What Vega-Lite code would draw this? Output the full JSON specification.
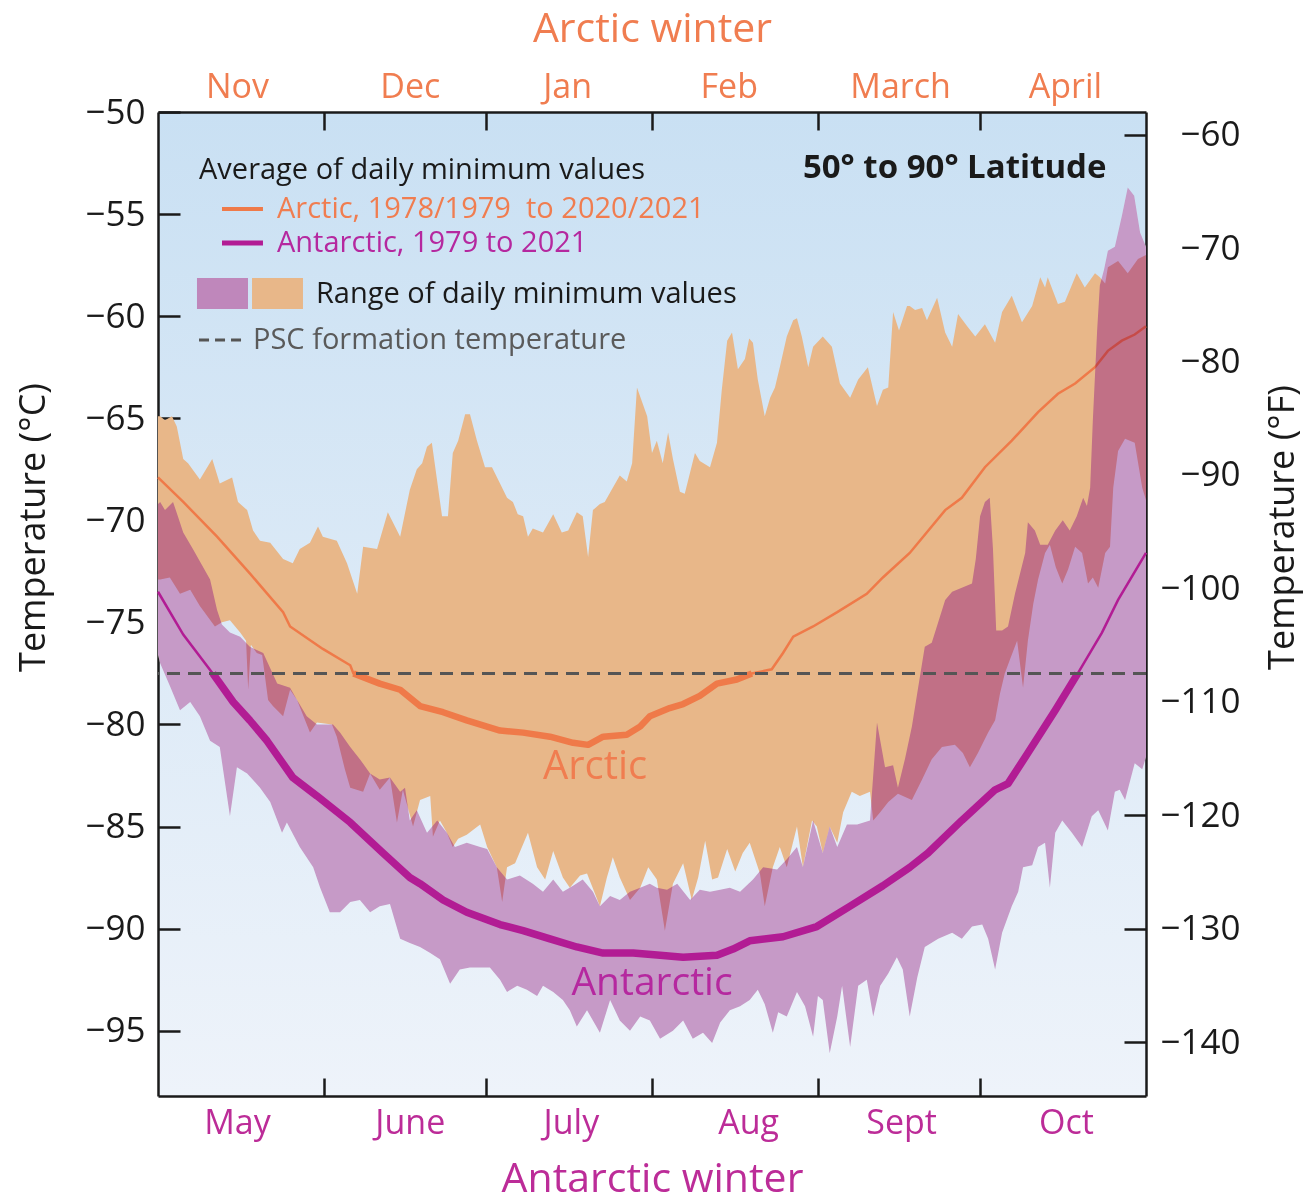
{
  "$schema": "https://vega.github.io/schema/vega-lite/v6.json",
  "width": 988,
  "height": 984,
  "autosize": {"type": "none"},
  "padding": {"left": 158, "top": 112, "right": 160, "bottom": 102},
  "background": "#ffffff",
  "config": {
    "font": "Open Sans",
    "view": {
      "stroke": null,
      "fill": {"gradient": "linear", "x1": 0, "y1": 0, "x2": 0, "y2": 1,
        "stops": [{"offset": 0, "color": "#c9e0f3"}, {"offset": 1, "color": "#eef3fa"}]}
    },
    "axis": {
      "grid": false, "zindex": 1,
      "labelFont": "Open Sans", "titleFont": "Open Sans", "titleFontWeight": "normal",
      "domainColor": "#1a1a1a", "domainWidth": 2.5, "tickColor": "#1a1a1a", "tickWidth": 2.5,
      "labelFlush": false, "labelOverlap": false, "labelBound": false
    }
  },
  "datasets": {
    "arcticBand": [
      {"day":0,"temp":-64.9},{"day":0.4,"temp":-64.9},{"day":1.3,"temp":-65.1},{"day":2.6,"temp":-64.9},{"day":3.5,"temp":-65.4},{"day":4.7,"temp":-67.0},{"day":5.6,"temp":-67.2},{"day":7.8,"temp":-68.0},{"day":10.1,"temp":-67.0},{"day":11.5,"temp":-68.2},{"day":13.8,"temp":-67.9},{"day":14.9,"temp":-69.1},{"day":16.6,"temp":-69.5},{"day":17.7,"temp":-70.5},{"day":19.0,"temp":-71.0},{"day":20.9,"temp":-71.1},{"day":23.3,"temp":-71.9},{"day":25.1,"temp":-72.1},{"day":26.4,"temp":-71.4},{"day":28.3,"temp":-71.1},{"day":29.8,"temp":-70.3},{"day":30.7,"temp":-70.8},{"day":33.3,"temp":-71.0},{"day":35.2,"temp":-72.1},{"day":37.1,"temp":-73.6},{"day":38.2,"temp":-71.3},{"day":40.8,"temp":-71.4},{"day":42.8,"temp":-69.6},{"day":45.1,"temp":-70.8},{"day":46.9,"temp":-68.5},{"day":48.2,"temp":-67.5},{"day":49.2,"temp":-67.2},{"day":50.1,"temp":-66.4},{"day":51.0,"temp":-66.2},{"day":52.9,"temp":-69.8},{"day":54.0,"temp":-69.8},{"day":54.9,"temp":-66.7},{"day":55.9,"temp":-66.1},{"day":57.2,"temp":-64.8},{"day":58.1,"temp":-64.8},{"day":59.4,"temp":-66.1},{"day":60.9,"temp":-67.4},{"day":62.2,"temp":-67.4},{"day":63.7,"temp":-68.2},{"day":65.0,"temp":-68.9},{"day":66.1,"temp":-69.1},{"day":67.0,"temp":-69.7},{"day":68.0,"temp":-69.8},{"day":68.9,"temp":-70.8},{"day":69.8,"temp":-70.4},{"day":71.7,"temp":-70.6},{"day":73.6,"temp":-69.7},{"day":75.2,"temp":-70.6},{"day":76.4,"temp":-70.5},{"day":78.0,"temp":-69.6},{"day":79.1,"temp":-69.8},{"day":80.1,"temp":-71.8},{"day":81.0,"temp":-69.5},{"day":82.3,"temp":-69.2},{"day":83.2,"temp":-69.1},{"day":84.7,"temp":-68.4},{"day":86.0,"temp":-67.8},{"day":87.3,"temp":-68.1},{"day":88.3,"temp":-67.2},{"day":89.2,"temp":-63.5},{"day":91.1,"temp":-64.9},{"day":92.0,"temp":-66.7},{"day":92.9,"temp":-66.1},{"day":94.0,"temp":-67.2},{"day":95.0,"temp":-65.7},{"day":95.9,"temp":-67.0},{"day":97.2,"temp":-68.6},{"day":98.1,"temp":-68.7},{"day":100.0,"temp":-66.7},{"day":100.9,"temp":-67.1},{"day":102.8,"temp":-67.4},{"day":104.1,"temp":-66.2},{"day":105.0,"temp":-63.6},{"day":106.0,"temp":-61.2},{"day":106.9,"temp":-60.8},{"day":108.0,"temp":-62.6},{"day":109.3,"temp":-62.1},{"day":110.1,"temp":-61.1},{"day":110.8,"temp":-61.3},{"day":111.7,"temp":-63.1},{"day":113.0,"temp":-64.9},{"day":114.0,"temp":-64.0},{"day":114.9,"temp":-63.5},{"day":115.8,"temp":-62.5},{"day":117.1,"temp":-61.0},{"day":118.3,"temp":-60.2},{"day":119.0,"temp":-60.1},{"day":119.9,"temp":-61.0},{"day":121.1,"temp":-62.5},{"day":122.0,"temp":-61.5},{"day":123.8,"temp":-61.0},{"day":125.5,"temp":-61.5},{"day":127.0,"temp":-63.3},{"day":128.9,"temp":-64.0},{"day":130.4,"temp":-63.1},{"day":132.2,"temp":-62.5},{"day":133.9,"temp":-64.4},{"day":135.0,"temp":-63.6},{"day":136.0,"temp":-63.5},{"day":136.9,"temp":-59.8},{"day":138.0,"temp":-60.7},{"day":139.5,"temp":-59.5},{"day":140.0,"temp":-59.5},{"day":141.0,"temp":-59.7},{"day":142.3,"temp":-59.6},{"day":143.2,"temp":-60.2},{"day":145.1,"temp":-59.1},{"day":146.6,"temp":-60.8},{"day":147.9,"temp":-61.5},{"day":149.0,"temp":-59.9},{"day":150.7,"temp":-60.5},{"day":152.2,"temp":-61.0},{"day":154.0,"temp":-60.4},{"day":155.9,"temp":-61.3},{"day":157.2,"temp":-59.8},{"day":159.0,"temp":-59.0},{"day":160.9,"temp":-60.3},{"day":162.8,"temp":-59.5},{"day":164.3,"temp":-58.1},{"day":165.2,"temp":-58.6},{"day":165.7,"temp":-58.1},{"day":167.6,"temp":-59.4},{"day":168.9,"temp":-59.3},{"day":171.1,"temp":-57.9},{"day":172.6,"temp":-58.6},{"day":174.5,"temp":-57.9},{"day":175.4,"temp":-58.1},{"day":176.4,"temp":-58.4},{"day":176.9,"temp":-57.6},{"day":178.8,"temp":-57.3},{"day":180.6,"temp":-57.9},{"day":182.5,"temp":-57.2},{"day":184,"temp":-57.0},
      {"day":184,"temp":-69.0},{"day":183.3,"temp":-68.4},{"day":181.9,"temp":-66.2},{"day":180.1,"temp":-66.0},{"day":178.8,"temp":-66.6},{"day":177.9,"temp":-68.4},{"day":177.3,"temp":-71.3},{"day":176.4,"temp":-71.6},{"day":175.1,"temp":-73.3},{"day":174.1,"temp":-72.8},{"day":173.2,"temp":-73.1},{"day":172.1,"temp":-71.6},{"day":170.8,"temp":-71.3},{"day":169.5,"temp":-72.4},{"day":168.4,"temp":-73.1},{"day":167.2,"temp":-72.3},{"day":166.1,"temp":-71.2},{"day":165.2,"temp":-71.6},{"day":163.9,"temp":-72.9},{"day":163.0,"temp":-74.1},{"day":162.0,"temp":-75.9},{"day":161.1,"temp":-78.2},{"day":160.0,"temp":-75.9},{"day":158.7,"temp":-76.8},{"day":157.7,"temp":-77.5},{"day":156.8,"temp":-78.5},{"day":155.9,"temp":-79.8},{"day":154.6,"temp":-80.4},{"day":152.7,"temp":-81.4},{"day":151.2,"temp":-82.1},{"day":149.9,"temp":-81.4},{"day":148.4,"temp":-81.0},{"day":146.0,"temp":-81.1},{"day":144.1,"temp":-81.7},{"day":142.3,"temp":-82.7},{"day":140.4,"temp":-83.7},{"day":137.8,"temp":-83.4},{"day":136.0,"temp":-83.8},{"day":134.5,"temp":-84.3},{"day":133.2,"temp":-84.7},{"day":132.6,"temp":-83.3},{"day":130.7,"temp":-83.5},{"day":129.2,"temp":-83.3},{"day":127.6,"temp":-84.3},{"day":126.5,"temp":-85.8},{"day":125.1,"temp":-85.0},{"day":123.8,"temp":-86.3},{"day":122.7,"temp":-85.0},{"day":121.8,"temp":-84.7},{"day":120.1,"temp":-87.0},{"day":119.0,"temp":-85.0},{"day":117.1,"temp":-87.0},{"day":115.8,"temp":-86.0},{"day":114.5,"temp":-87.0},{"day":113.0,"temp":-88.9},{"day":112.1,"temp":-87.3},{"day":110.2,"temp":-85.8},{"day":108.9,"temp":-86.3},{"day":107.5,"temp":-87.2},{"day":106.0,"temp":-86.1},{"day":104.3,"temp":-87.5},{"day":103.2,"temp":-87.6},{"day":101.9,"temp":-85.7},{"day":100.6,"temp":-87.5},{"day":99.4,"temp":-88.6},{"day":97.8,"temp":-86.8},{"day":95.9,"temp":-87.8},{"day":94.4,"temp":-90.1},{"day":92.9,"temp":-87.6},{"day":91.3,"temp":-87.0},{"day":89.8,"temp":-88.0},{"day":87.9,"temp":-88.6},{"day":86.0,"temp":-87.5},{"day":84.7,"temp":-86.5},{"day":83.6,"temp":-87.5},{"day":82.3,"temp":-88.9},{"day":80.8,"temp":-87.9},{"day":79.9,"temp":-87.3},{"day":78.6,"temp":-87.4},{"day":76.7,"temp":-88.0},{"day":75.4,"temp":-87.5},{"day":73.6,"temp":-86.2},{"day":72.1,"temp":-87.6},{"day":70.6,"temp":-87.0},{"day":68.9,"temp":-85.3},{"day":66.5,"temp":-86.8},{"day":65.0,"temp":-87.0},{"day":64.1,"temp":-88.7},{"day":63.1,"temp":-87.0},{"day":61.3,"temp":-86.0},{"day":60.0,"temp":-84.9},{"day":57.5,"temp":-85.4},{"day":55.9,"temp":-85.6},{"day":54.9,"temp":-86.0},{"day":53.8,"temp":-85.3},{"day":52.5,"temp":-84.7},{"day":51.2,"temp":-85.5},{"day":50.7,"temp":-83.5},{"day":48.8,"temp":-83.7},{"day":47.5,"temp":-85.0},{"day":45.6,"temp":-83.2},{"day":44.5,"temp":-84.8},{"day":43.2,"temp":-82.6},{"day":41.3,"temp":-83.2},{"day":39.5,"temp":-82.4},{"day":38.2,"temp":-83.3},{"day":35.8,"temp":-83.1},{"day":34.8,"temp":-82.2},{"day":33.3,"temp":-80.6},{"day":32.4,"temp":-80.0},{"day":29.6,"temp":-79.9},{"day":28.3,"temp":-80.4},{"day":25.9,"temp":-78.8},{"day":24.6,"temp":-78.3},{"day":23.3,"temp":-79.6},{"day":21.4,"temp":-79.1},{"day":20.5,"temp":-78.8},{"day":19.4,"temp":-76.6},{"day":18.4,"temp":-76.5},{"day":17.3,"temp":-76.1},{"day":16.8,"temp":-78.3},{"day":16.4,"temp":-75.9},{"day":15.3,"temp":-75.5},{"day":13.4,"temp":-74.9},{"day":11.9,"temp":-75.0},{"day":10.6,"temp":-75.2},{"day":7.8,"temp":-74.2},{"day":6.0,"temp":-73.4},{"day":4.1,"temp":-73.6},{"day":2.2,"temp":-72.8},{"day":0.4,"temp":-72.9},{"day":0,"temp":-72.9}
    ],
    "antarcticBand": [
      {"day":0,"temp":-69.2},{"day":0.4,"temp":-69.1},{"day":1.3,"temp":-69.5},{"day":2.8,"temp":-69.1},{"day":3.7,"temp":-69.8},{"day":4.7,"temp":-70.6},{"day":6.5,"temp":-71.4},{"day":9.7,"temp":-72.9},{"day":11.0,"temp":-74.4},{"day":11.9,"temp":-75.1},{"day":13.4,"temp":-75.5},{"day":15.3,"temp":-75.7},{"day":17.1,"temp":-76.2},{"day":19.6,"temp":-76.5},{"day":22.2,"temp":-78.0},{"day":24.6,"temp":-78.2},{"day":25.9,"temp":-78.8},{"day":27.7,"temp":-79.6},{"day":29.6,"temp":-80.0},{"day":32.6,"temp":-80.0},{"day":33.9,"temp":-80.4},{"day":35.8,"temp":-81.1},{"day":37.6,"temp":-81.7},{"day":39.5,"temp":-82.4},{"day":41.3,"temp":-82.7},{"day":43.2,"temp":-82.6},{"day":45.1,"temp":-83.3},{"day":46.0,"temp":-83.1},{"day":46.9,"temp":-84.7},{"day":48.2,"temp":-84.2},{"day":50.1,"temp":-85.3},{"day":52.0,"temp":-84.7},{"day":53.8,"temp":-85.3},{"day":55.3,"temp":-86.0},{"day":57.5,"temp":-85.8},{"day":60.0,"temp":-86.0},{"day":61.3,"temp":-86.1},{"day":63.1,"temp":-87.0},{"day":65.0,"temp":-87.6},{"day":67.4,"temp":-87.4},{"day":69.8,"temp":-87.8},{"day":71.7,"temp":-88.2},{"day":73.6,"temp":-87.6},{"day":75.4,"temp":-88.2},{"day":77.3,"temp":-87.9},{"day":79.1,"temp":-87.6},{"day":81.0,"temp":-88.2},{"day":82.3,"temp":-88.9},{"day":84.2,"temp":-88.4},{"day":86.0,"temp":-88.6},{"day":87.9,"temp":-88.2},{"day":89.8,"temp":-88.0},{"day":91.6,"temp":-87.8},{"day":92.9,"temp":-88.0},{"day":94.8,"temp":-88.1},{"day":96.7,"temp":-87.8},{"day":99.1,"temp":-88.6},{"day":100.9,"temp":-88.1},{"day":102.8,"temp":-88.2},{"day":104.7,"temp":-88.1},{"day":106.5,"temp":-88.0},{"day":108.4,"temp":-88.2},{"day":110.8,"temp":-87.6},{"day":112.7,"temp":-87.0},{"day":115.3,"temp":-87.1},{"day":117.1,"temp":-86.6},{"day":119.0,"temp":-86.0},{"day":120.1,"temp":-87.0},{"day":122.0,"temp":-84.7},{"day":123.8,"temp":-86.3},{"day":125.1,"temp":-85.0},{"day":126.5,"temp":-86.0},{"day":128.3,"temp":-84.9},{"day":130.2,"temp":-84.9},{"day":132.6,"temp":-84.7},{"day":133.9,"temp":-79.9},{"day":135.4,"temp":-82.1},{"day":136.9,"temp":-82.0},{"day":137.8,"temp":-83.1},{"day":139.1,"temp":-81.7},{"day":140.4,"temp":-80.1},{"day":141.5,"temp":-78.3},{"day":142.8,"temp":-76.2},{"day":144.1,"temp":-76.0},{"day":145.3,"temp":-75.0},{"day":146.6,"temp":-73.9},{"day":147.9,"temp":-73.5},{"day":149.7,"temp":-73.3},{"day":151.6,"temp":-73.1},{"day":152.3,"temp":-71.9},{"day":153.1,"temp":-69.8},{"day":154.0,"temp":-69.1},{"day":154.9,"temp":-68.9},{"day":155.5,"temp":-71.4},{"day":156.1,"temp":-75.4},{"day":157.2,"temp":-75.4},{"day":158.3,"temp":-75.2},{"day":159.6,"temp":-73.6},{"day":161.5,"temp":-71.6},{"day":162.0,"temp":-70.1},{"day":163.3,"temp":-70.5},{"day":164.3,"temp":-71.2},{"day":165.7,"temp":-71.2},{"day":167.1,"temp":-70.5},{"day":168.5,"temp":-70.0},{"day":169.8,"temp":-70.5},{"day":171.1,"temp":-69.8},{"day":172.3,"temp":-68.9},{"day":173.0,"temp":-69.3},{"day":173.6,"temp":-68.4},{"day":174.1,"temp":-65.1},{"day":174.9,"temp":-60.7},{"day":175.4,"temp":-58.5},{"day":176.2,"temp":-57.7},{"day":176.9,"temp":-56.8},{"day":178.2,"temp":-56.6},{"day":179.5,"temp":-55.1},{"day":180.6,"temp":-53.7},{"day":181.8,"temp":-54.1},{"day":182.9,"temp":-55.9},{"day":184,"temp":-56.6},
      {"day":184,"temp":-81.6},{"day":183.3,"temp":-82.2},{"day":181.9,"temp":-81.9},{"day":180.1,"temp":-83.7},{"day":179.1,"temp":-83.2},{"day":178.2,"temp":-83.3},{"day":176.9,"temp":-85.2},{"day":175.1,"temp":-84.2},{"day":173.9,"temp":-84.5},{"day":172.1,"temp":-86.0},{"day":170.2,"temp":-85.3},{"day":168.4,"temp":-84.7},{"day":167.1,"temp":-85.3},{"day":166.1,"temp":-88.0},{"day":165.2,"temp":-85.8},{"day":163.9,"temp":-86.0},{"day":162.8,"temp":-86.9},{"day":161.1,"temp":-87.0},{"day":160.2,"temp":-88.2},{"day":159.0,"temp":-88.9},{"day":157.2,"temp":-90.2},{"day":155.9,"temp":-92.0},{"day":154.6,"temp":-90.5},{"day":153.5,"temp":-89.8},{"day":151.6,"temp":-89.9},{"day":149.7,"temp":-90.5},{"day":147.9,"temp":-90.2},{"day":145.3,"temp":-90.5},{"day":142.8,"temp":-90.9},{"day":141.4,"temp":-92.4},{"day":140.0,"temp":-94.3},{"day":138.7,"temp":-92.0},{"day":137.6,"temp":-91.4},{"day":136.0,"temp":-92.2},{"day":134.5,"temp":-92.8},{"day":133.2,"temp":-94.3},{"day":132.0,"temp":-92.5},{"day":130.4,"temp":-92.8},{"day":128.9,"temp":-95.8},{"day":127.4,"temp":-92.8},{"day":126.5,"temp":-94.3},{"day":125.1,"temp":-96.1},{"day":123.8,"temp":-93.5},{"day":122.9,"temp":-93.3},{"day":122.0,"temp":-95.3},{"day":120.5,"temp":-93.8},{"day":119.0,"temp":-93.1},{"day":117.1,"temp":-94.3},{"day":115.5,"temp":-94.1},{"day":114.5,"temp":-95.1},{"day":113.0,"temp":-93.7},{"day":111.7,"temp":-93.0},{"day":110.2,"temp":-93.5},{"day":108.4,"temp":-93.8},{"day":106.5,"temp":-94.0},{"day":104.7,"temp":-94.6},{"day":103.2,"temp":-95.6},{"day":101.5,"temp":-95.1},{"day":99.6,"temp":-95.4},{"day":97.8,"temp":-94.5},{"day":95.9,"temp":-95.0},{"day":93.5,"temp":-95.4},{"day":91.6,"temp":-94.5},{"day":89.8,"temp":-94.3},{"day":87.9,"temp":-95.0},{"day":86.0,"temp":-94.5},{"day":84.2,"temp":-93.5},{"day":82.3,"temp":-95.1},{"day":79.9,"temp":-94.0},{"day":78.0,"temp":-94.8},{"day":76.7,"temp":-94.0},{"day":75.4,"temp":-93.5},{"day":73.6,"temp":-93.1},{"day":71.7,"temp":-92.8},{"day":70.6,"temp":-93.3},{"day":68.7,"temp":-93.0},{"day":66.9,"temp":-92.8},{"day":65.0,"temp":-93.1},{"day":63.7,"temp":-92.5},{"day":61.8,"temp":-91.9},{"day":58.1,"temp":-91.9},{"day":56.2,"temp":-92.0},{"day":54.4,"temp":-92.7},{"day":52.5,"temp":-91.5},{"day":50.7,"temp":-91.2},{"day":48.8,"temp":-90.9},{"day":46.9,"temp":-90.7},{"day":45.1,"temp":-90.5},{"day":43.2,"temp":-88.8},{"day":41.3,"temp":-88.9},{"day":39.5,"temp":-89.2},{"day":37.6,"temp":-88.6},{"day":35.8,"temp":-88.7},{"day":33.9,"temp":-89.2},{"day":32.0,"temp":-89.2},{"day":30.2,"temp":-88.0},{"day":28.9,"temp":-87.0},{"day":26.4,"temp":-86.0},{"day":24.0,"temp":-84.8},{"day":23.1,"temp":-85.3},{"day":20.9,"temp":-83.8},{"day":19.0,"temp":-83.1},{"day":16.6,"temp":-82.4},{"day":14.7,"temp":-82.1},{"day":13.4,"temp":-84.5},{"day":11.5,"temp":-81.1},{"day":9.7,"temp":-80.8},{"day":7.8,"temp":-79.6},{"day":6.0,"temp":-78.9},{"day":4.1,"temp":-79.3},{"day":2.2,"temp":-78.1},{"day":0.4,"temp":-77.0},{"day":0,"temp":-76.6}
    ],
    "arcticMean": [
      {"day":0,"temp":-67.9},{"day":4.7,"temp":-69.1},{"day":11.0,"temp":-70.8},{"day":17.1,"temp":-72.6},{"day":23.3,"temp":-74.5},{"day":24.6,"temp":-75.2},{"day":30.7,"temp":-76.3},{"day":35.8,"temp":-77.1},{"day":36.4,"temp":-77.5},{"day":41.3,"temp":-78.0},{"day":45.1,"temp":-78.3},{"day":48.8,"temp":-79.1},{"day":53.1,"temp":-79.4},{"day":57.5,"temp":-79.8},{"day":63.7,"temp":-80.3},{"day":68.0,"temp":-80.4},{"day":73.0,"temp":-80.6},{"day":77.3,"temp":-80.9},{"day":80.1,"temp":-81.0},{"day":82.9,"temp":-80.6},{"day":87.3,"temp":-80.5},{"day":89.8,"temp":-80.1},{"day":91.6,"temp":-79.6},{"day":95.3,"temp":-79.2},{"day":97.8,"temp":-79.0},{"day":100.9,"temp":-78.6},{"day":104.1,"temp":-78.0},{"day":107.8,"temp":-77.8},{"day":110.6,"temp":-77.5},{"day":114.3,"temp":-77.3},{"day":116.4,"temp":-76.5},{"day":118.3,"temp":-75.7},{"day":122.0,"temp":-75.2},{"day":126.5,"temp":-74.5},{"day":132.0,"temp":-73.6},{"day":135.0,"temp":-72.8},{"day":140.0,"temp":-71.6},{"day":146.6,"temp":-69.5},{"day":149.7,"temp":-68.9},{"day":154.0,"temp":-67.4},{"day":159.0,"temp":-66.1},{"day":163.9,"temp":-64.7},{"day":167.6,"temp":-63.8},{"day":170.8,"temp":-63.3},{"day":174.5,"temp":-62.5},{"day":176.9,"temp":-61.7},{"day":179.5,"temp":-61.2},{"day":181.9,"temp":-60.9},{"day":184,"temp":-60.5}
    ],
    "antarcticMean": [
      {"day":0,"temp":-73.5},{"day":4.7,"temp":-75.6},{"day":10.2,"temp":-77.5},{"day":14.0,"temp":-78.9},{"day":17.1,"temp":-79.8},{"day":20.3,"temp":-80.8},{"day":25.1,"temp":-82.6},{"day":29.6,"temp":-83.5},{"day":35.8,"temp":-84.8},{"day":41.9,"temp":-86.3},{"day":46.9,"temp":-87.5},{"day":48.8,"temp":-87.8},{"day":53.1,"temp":-88.6},{"day":57.5,"temp":-89.2},{"day":63.7,"temp":-89.8},{"day":68.0,"temp":-90.1},{"day":73.0,"temp":-90.5},{"day":78.0,"temp":-90.9},{"day":82.9,"temp":-91.2},{"day":88.5,"temp":-91.2},{"day":93.5,"temp":-91.3},{"day":97.8,"temp":-91.4},{"day":104.1,"temp":-91.3},{"day":107.1,"temp":-91.0},{"day":110.2,"temp":-90.6},{"day":116.4,"temp":-90.4},{"day":122.7,"temp":-89.9},{"day":128.9,"temp":-88.9},{"day":135.0,"temp":-87.9},{"day":140.0,"temp":-87.0},{"day":143.4,"temp":-86.3},{"day":149.7,"temp":-84.7},{"day":155.9,"temp":-83.2},{"day":158.3,"temp":-82.9},{"day":162.0,"temp":-81.4},{"day":167.1,"temp":-79.3},{"day":171.3,"temp":-77.5},{"day":175.8,"temp":-75.5},{"day":178.8,"temp":-73.9},{"day":184,"temp":-71.6}
    ]
  },
  "resolve": {"axis": {"x": "independent", "y": "independent"}},
  "layer": [
    {
      "data": {"name": "antarcticBand"},
      "mark": {"type": "line", "filled": true, "color": "#eefccc", "strokeWidth": 0},
      "encoding": {
        "x": {"field": "day", "type": "quantitative", "scale": {"domain": [0, 184], "nice": false, "zero": false},
          "axis": {"orient": "bottom", "values": [31, 61, 92, 123, 153], "labels": false, "tickSize": -18, "domain": true, "title": null}},
        "y": {"field": "temp", "type": "quantitative", "scale": {"domain": [-98.2, -50], "nice": false, "zero": false},
          "axis": {"orient": "left", "values": [-50, -55, -60, -65, -70, -75, -80, -85, -90, -95], "tickSize": -22, "labelPadding": 35,
            "labelFontSize": 35, "labelColor": "#1a1a1a", "domain": true,
            "title": "Temperature (°C)", "titleFontSize": 36, "titleColor": "#1a1a1a",
            "titleAngle": 270, "titleAlign": "center", "titleBaseline": "middle", "titleX": -125, "titleY": 415}},
        "order": {"value": null}
      }
    },
    {
      "data": {"name": "arcticBand"},
      "mark": {"type": "line", "filled": true, "color": "#e8b789", "strokeWidth": 0},
      "encoding": {
        "x": {"field": "day", "type": "quantitative",
          "axis": {"orient": "top", "values": [31, 61, 92, 123, 153], "labels": false, "tickSize": -18, "domain": true, "title": null}},
        "y": {"field": "temp", "type": "quantitative", "axis": null},
        "order": {"value": null}
      }
    },
    {
      "data": {"name": "arcticMean"},
      "mark": {"type": "line", "color": "#ef7a49", "strokeWidth": 2.5},
      "encoding": {
        "x": {"field": "day", "type": "quantitative",
          "axis": {"orient": "bottom", "values": [14.7, 46.9, 76.9, 109.9, 138.4, 169.1], "ticks": false, "domain": false,
            "labelExpr": "datum.value < 30 ? 'May' : datum.value < 60 ? 'June' : datum.value < 90 ? 'July' : datum.value < 120 ? 'Aug' : datum.value < 150 ? 'Sept' : 'Oct'",
            "labelFontSize": 34, "labelColor": "#bc2c98", "labelPadding": 10,
            "title": "Antarctic winter", "titleFontSize": 41, "titleColor": "#bc2c98", "titlePadding": 19}},
        "y": {"field": "temp", "type": "quantitative", "axis": null}
      }
    },
    {
      "data": {"name": "arcticMean"},
      "transform": [{"filter": "datum.temp <= -77.5"}],
      "mark": {"type": "line", "color": "#ef7a49", "strokeWidth": 6.5, "strokeCap": "butt", "strokeJoin": "round"},
      "encoding": {
        "x": {"field": "day", "type": "quantitative",
          "axis": {"orient": "top", "values": [14.7, 46.9, 76.2, 106.3, 138.2, 168.9], "ticks": false, "domain": false,
            "labelExpr": "datum.value < 30 ? 'Nov' : datum.value < 60 ? 'Dec' : datum.value < 90 ? 'Jan' : datum.value < 120 ? 'Feb' : datum.value < 150 ? 'March' : 'April'",
            "labelFontSize": 34, "labelColor": "#f07d50", "labelPadding": 8,
            "title": "Arctic winter", "titleFontSize": 41, "titleColor": "#f07d50", "titlePadding": 20}},
        "y": {"field": "temp", "type": "quantitative", "axis": null}
      }
    },
    {
      "data": {"name": "antarcticBand"},
      "mark": {"type": "line", "filled": true, "color": "#d49cf9", "strokeWidth": 0, "blend": "multiply"},
      "encoding": {
        "x": {"field": "day", "type": "quantitative", "axis": null},
        "y": {"field": "temp", "type": "quantitative", "axis": null},
        "order": {"value": null}
      }
    },
    {
      "data": {"name": "antarcticMean"},
      "mark": {"type": "line", "color": "#b21c94", "strokeWidth": 2.5},
      "encoding": {
        "x": {"field": "day", "type": "quantitative", "axis": null},
        "y": {"field": "temp", "type": "quantitative", "axis": null}
      }
    },
    {
      "data": {"name": "antarcticMean"},
      "transform": [{"filter": "datum.temp <= -77.5"}],
      "mark": {"type": "line", "color": "#b21c94", "strokeWidth": 7.5, "strokeCap": "butt", "strokeJoin": "round"},
      "encoding": {
        "x": {"field": "day", "type": "quantitative", "axis": null},
        "y": {"field": "temp", "type": "quantitative", "axis": null}
      }
    },
    {
      "data": {"values": [{"label": "Arctic"}]},
      "mark": {"type": "text", "align": "center", "baseline": "middle", "fontSize": 40, "color": "#f07d50"},
      "encoding": {
        "x": {"datum": 81.4, "type": "quantitative", "axis": null},
        "y": {"datum": -82.1, "type": "quantitative", "axis": null},
        "text": {"field": "label"}
      }
    },
    {
      "data": {"values": [{"label": "Antarctic"}]},
      "mark": {"type": "text", "align": "center", "baseline": "middle", "fontSize": 39, "color": "#b5289f"},
      "encoding": {
        "x": {"datum": 92.0, "type": "quantitative", "axis": null},
        "y": {"datum": -92.65, "type": "quantitative", "axis": null},
        "text": {"field": "label"}
      }
    },
    {
      "data": {"values": [{"label": "Average of daily minimum values"}]},
      "mark": {"type": "text", "align": "left", "baseline": "middle", "fontSize": 29, "color": "#1a1a1a"},
      "encoding": {
        "x": {"datum": 7.64, "type": "quantitative", "axis": null},
        "y": {"datum": -52.84, "type": "quantitative", "axis": null},
        "text": {"field": "label"}
      }
    },
    {
      "data": {"values": [{}]},
      "mark": {"type": "rule", "color": "#ef7a49", "strokeWidth": 4},
      "encoding": {
        "x": {"datum": 11.92, "type": "quantitative", "axis": null},
        "x2": {"datum": 19.55},
        "y": {"datum": -54.75, "type": "quantitative", "axis": null}
      }
    },
    {
      "data": {"values": [{"label": "Arctic, 1978/1979\u00a0 to 2020/2021"}]},
      "mark": {"type": "text", "align": "left", "baseline": "middle", "fontSize": 29, "color": "#f07d50"},
      "encoding": {
        "x": {"datum": 22.16, "type": "quantitative", "axis": null},
        "y": {"datum": -54.75, "type": "quantitative", "axis": null},
        "text": {"field": "label"}
      }
    },
    {
      "data": {"values": [{}]},
      "mark": {"type": "rule", "color": "#b21c94", "strokeWidth": 5},
      "encoding": {
        "x": {"datum": 11.92, "type": "quantitative", "axis": null},
        "x2": {"datum": 19.55},
        "y": {"datum": -56.42, "type": "quantitative", "axis": null}
      }
    },
    {
      "data": {"values": [{"label": "Antarctic, 1979 to 2021"}]},
      "mark": {"type": "text", "align": "left", "baseline": "middle", "fontSize": 29, "color": "#b5289f"},
      "encoding": {
        "x": {"datum": 22.16, "type": "quantitative", "axis": null},
        "y": {"datum": -56.42, "type": "quantitative", "axis": null},
        "text": {"field": "label"}
      }
    },
    {
      "data": {"values": [{}]},
      "mark": {"type": "rect", "color": "#bf87bb"},
      "encoding": {
        "x": {"datum": 7.26, "type": "quantitative", "axis": null},
        "x2": {"datum": 16.76},
        "y": {"datum": -58.13, "type": "quantitative", "axis": null},
        "y2": {"datum": -59.65}
      }
    },
    {
      "data": {"values": [{}]},
      "mark": {"type": "rect", "color": "#e8b789"},
      "encoding": {
        "x": {"datum": 17.51, "type": "quantitative", "axis": null},
        "x2": {"datum": 27.0},
        "y": {"datum": -58.13, "type": "quantitative", "axis": null},
        "y2": {"datum": -59.65}
      }
    },
    {
      "data": {"values": [{"label": "Range of daily minimum values"}]},
      "mark": {"type": "text", "align": "left", "baseline": "middle", "fontSize": 29, "color": "#1a1a1a"},
      "encoding": {
        "x": {"datum": 29.42, "type": "quantitative", "axis": null},
        "y": {"datum": -58.91, "type": "quantitative", "axis": null},
        "text": {"field": "label"}
      }
    },
    {
      "data": {"values": [{}]},
      "mark": {"type": "rule", "color": "#555555", "strokeWidth": 3, "strokeDash": [10, 6]},
      "encoding": {
        "x": {"datum": 7.64, "type": "quantitative", "axis": null},
        "x2": {"datum": 15.83},
        "y": {"datum": -61.17, "type": "quantitative", "axis": null}
      }
    },
    {
      "data": {"values": [{"label": "PSC formation temperature"}]},
      "mark": {"type": "text", "align": "left", "baseline": "middle", "fontSize": 29, "color": "#5a5a5a"},
      "encoding": {
        "x": {"datum": 17.69, "type": "quantitative", "axis": null},
        "y": {"datum": -61.17, "type": "quantitative", "axis": null},
        "text": {"field": "label"}
      }
    },
    {
      "data": {"values": [{"label": "50° to 90° Latitude"}]},
      "mark": {"type": "text", "align": "left", "baseline": "middle", "fontSize": 33, "fontWeight": "bold", "color": "#1a1a1a"},
      "encoding": {
        "x": {"datum": 120.1, "type": "quantitative", "axis": null},
        "y": {"datum": -52.74, "type": "quantitative", "axis": null},
        "text": {"field": "label"}
      }
    },
    {
      "data": {"values": [{}]},
      "mark": {"type": "rule", "color": "#555555", "strokeWidth": 3, "strokeDash": [13, 8]},
      "encoding": {
        "y": {"datum": -77.5, "type": "quantitative",
          "axis": {"orient": "right",
            "values": [-51.111, -56.667, -62.222, -67.778, -73.333, -78.889, -84.444, -90, -95.556],
            "labelExpr": "format(datum.value * 1.8 + 32, '.0f')",
            "tickSize": -22, "labelPadding": 116, "labelAlign": "right",
            "labelFontSize": 35, "labelColor": "#1a1a1a", "domain": true,
            "title": "Temperature (°F)", "titleFontSize": 36, "titleColor": "#1a1a1a",
            "titleAngle": 270, "titleAlign": "center", "titleBaseline": "middle", "titleX": 136, "titleY": 415}}
      }
    }
  ]
}
